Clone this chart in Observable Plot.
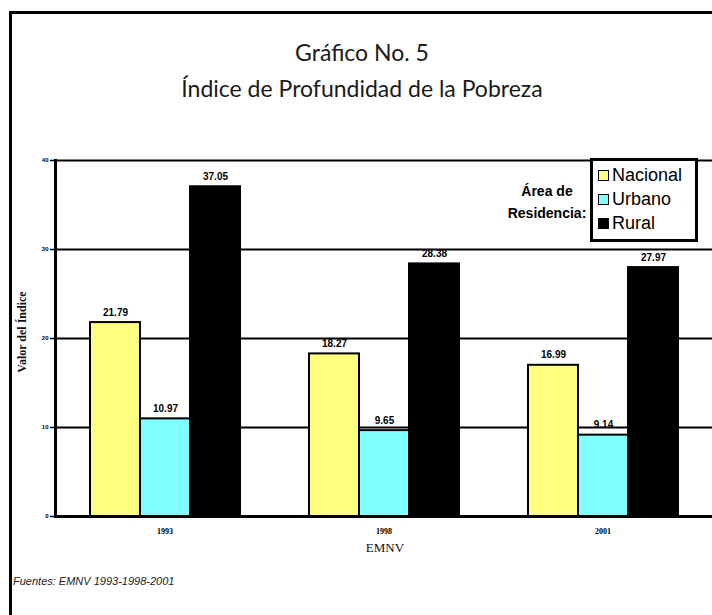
<!DOCTYPE html>
<html><head><meta charset="utf-8">
<script src="https://cdn.jsdelivr.net/npm/d3@7"></script>
<script src="https://cdn.jsdelivr.net/npm/@observablehq/plot@0.6"></script>
<style>
body{margin:0;background:#fff;}
#wrap{position:relative;width:712px;height:615px;overflow:hidden;background:#fff;font-family:"Liberation Sans",Arial,sans-serif;}
#chart{position:absolute;left:0;top:0;}
.abs{position:absolute;}
.t{font-family:Lato,"Open Sans",sans-serif;font-size:23px;color:#1a1a1a;text-align:center;width:712px;left:6px;white-space:nowrap;}
#legend{left:590px;top:158px;width:102px;height:78px;border:3px solid #000;background:#fff;}
.li{position:absolute;left:5px;height:24px;line-height:24px;font-size:18px;color:#000;white-space:nowrap;}
.sw{display:inline-block;width:9px;height:9px;border:1.5px solid #000;margin-right:3px;vertical-align:0px;}
</style></head><body>
<div id="wrap">
  <div id="chart"></div>
  <div class="abs" style="left:9px;top:11px;width:720px;height:620px;border-left:3px solid #000;border-top:3px solid #000;pointer-events:none;"></div>
  <div class="abs t" style="top:38px;">Gráfico No. 5</div>
  <div class="abs t" style="top:74px;">Índice de Profundidad de la Pobreza</div>
  <div class="abs" id="legtitle" style="left:487px;top:180px;width:120px;text-align:center;font-weight:bold;font-size:14px;line-height:22px;color:#000;">Área de<br>Residencia:</div>
  <div class="abs" id="legend"></div>
  <div class="abs" style="left:305px;top:540px;width:160px;text-align:center;font-family:'Liberation Serif','Times New Roman',serif;font-size:13px;color:#111;">EMNV</div>
  <div class="abs" style="left:13px;top:575px;font-style:italic;font-size:11px;color:#222;">Fuentes: EMNV 1993-1998-2001</div>
  <div class="abs" style="left:22px;top:332px;transform:translate(-50%,-50%) rotate(-90deg);font-family:'Liberation Serif','Times New Roman',serif;font-weight:bold;font-size:12px;white-space:nowrap;color:#111;">Valor del Índice</div>
</div>
<script>
const years = ["1993", "1998", "2001"];
const areas = ["Nacional", "Urbano", "Rural"];
const nacional = [21.79, 18.27, 16.99];
const urbano = [10.97, 9.65, 9.14];
const rural = [37.05, 28.38, 27.97];
const colors = ["#ffff80", "#80ffff", "#000000"];
const yTicks = [0, 10, 20, 30, 40];
const gridValues = [10, 20, 30, 40];

const series = [nacional, urbano, rural];
const data = years.flatMap((yr, i) => areas.map((a, j) => ({year: yr, area: a, value: series[j][i]})));

const chart = Plot.plot({
  width: 712,
  height: 615,
  marginTop: 160,
  marginBottom: 99,
  marginLeft: 55,
  marginRight: 0,
  style: {background: "transparent", fontFamily: "'Liberation Sans', Arial, sans-serif"},
  fx: {domain: years, paddingInner: 0, paddingOuter: 0, label: null},
  x: {domain: areas, paddingInner: 0, paddingOuter: 0.66, axis: null},
  y: {domain: [0, 40], label: null},
  color: {domain: areas, range: colors},
  marks: [
    Plot.ruleY(gridValues, {stroke: "#000", strokeWidth: 2}),
    Plot.barY(data, {fx: "year", x: "area", y: "value", fill: "area", stroke: "#000", strokeWidth: 2}),
    Plot.text(data, {fx: "year", x: "area", y: "value", text: d => d.value.toFixed(2), dy: -10, fontSize: 10, fontWeight: "bold", fill: "#000"}),
    Plot.ruleY([0], {stroke: "#000", strokeWidth: 3}),
    Plot.frame({anchor: "left", facetAnchor: "left", stroke: "#000", strokeWidth: 3}),
    Plot.axisY({ticks: yTicks, tickSize: 5, tickPadding: 2, fontSize: 6, fontWeight: "bold", label: null, stroke: "#000", strokeWidth: 1.5}),
    Plot.axisFx({anchor: "bottom", tickSize: 0, tickPadding: 12, fontSize: 8, fontWeight: "bold", fontFamily: "'Liberation Serif', serif", label: null})
  ]
});
document.getElementById("chart").appendChild(chart);

const legend = document.getElementById("legend");
areas.forEach((a, i) => {
  const row = document.createElement("div");
  row.className = "li";
  row.style.top = (2 + i * 24) + "px";
  const sw = document.createElement("span");
  sw.className = "sw";
  sw.style.background = colors[i];
  row.appendChild(sw);
  row.appendChild(document.createTextNode(a));
  legend.appendChild(row);
});
</script>
</body></html>
